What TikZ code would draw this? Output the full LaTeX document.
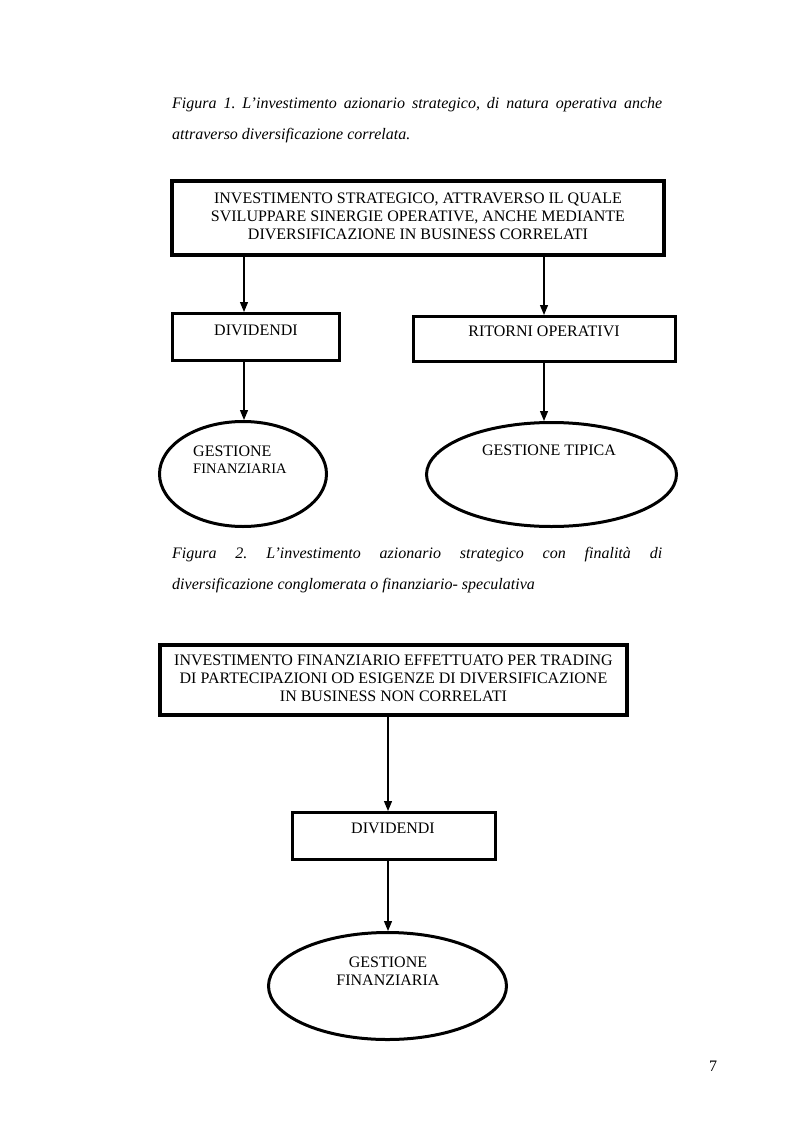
\documentclass[tikz,border=0pt]{standalone}
\usepackage{fontspec}
\setmainfont{Liberation Serif}
\usetikzlibrary{shapes.geometric,arrows.meta}
\frenchspacing
\begin{document}
\begin{tikzpicture}[x=1pt,y=-1pt,
  txt/.style={inner sep=0pt,anchor=base,font=\fontsize{16}{18}\selectfont},
  multi/.style={inner sep=0pt,anchor=center,align=center,font=\fontsize{16}{18}\selectfont},
  captxt/.style={inner sep=0pt,anchor=base west,font=\fontsize{16}{18}\selectfont\itshape\frenchspacing},
  arr/.style={line width=1.2pt,-{Triangle[length=10pt,width=8pt]}},
  bbox/.style={draw,line width=4pt,inner sep=0pt},
  sbox/.style={draw,line width=3pt,inner sep=0pt},
  oval/.style={draw,ellipse,line width=3pt,inner sep=0pt},
]
\useasboundingbox[fill=white] (0,0) rectangle (793,1123);

% Figure 1 caption
\node[captxt] (c1a) at (172,109) {\makebox[490pt][s]{Figura 1. L’investimento azionario strategico, di natura operativa anche}};
\node[captxt] (c1b) at (172,140) {attraverso diversificazione correlata.};

% Figure 1 boxes
\node[bbox,minimum width=492pt,minimum height=74pt] (b1) at (418,218) {};
\node[multi] (t1) at (418,216) {INVESTIMENTO STRATEGICO, ATTRAVERSO IL QUALE\\SVILUPPARE SINERGIE OPERATIVE, ANCHE MEDIANTE\\DIVERSIFICAZIONE IN BUSINESS CORRELATI};

\node[sbox,minimum width=167pt,minimum height=47pt] (d1) at (256,337) {};
\node[txt] (td1) at (256,335) {DIVIDENDI};

\node[sbox,minimum width=262pt,minimum height=45pt] (r1) at (544.5,339) {};
\node[txt] (tr1) at (544,336) {RITORNI OPERATIVI};

\node[oval,minimum width=167pt,minimum height=105pt] (e1) at (243,474) {};
\node[inner sep=0pt,anchor=base west,font=\fontsize{16}{18}\selectfont] (te1a) at (193,456) {GESTIONE};
\node[inner sep=0pt,anchor=base west,font=\fontsize{14.5}{16}\selectfont] (te1b) at (193,473) {FINANZIARIA};

\node[oval,minimum width=250pt,minimum height=104pt] (e2) at (551.5,474.5) {};
\node[txt] (te2) at (549,455) {GESTIONE TIPICA};

\coordinate (xa) at (244,0);
\coordinate (xb) at (544,0);
\draw[arr] (b1.south -| xa) -- (d1.north -| xa);
\draw[arr] (b1.south -| xb) -- (r1.north -| xb);
\draw[arr] (d1.south -| xa) -- (e1.north -| xa);
\draw[arr] (r1.south -| xb) -- (e2.north -| xb);

% Figure 2 caption
\node[captxt] (c2a) at (172,558) {\makebox[490pt][s]{Figura 2. L’investimento azionario strategico con finalità di}};
\node[captxt] (c2b) at (172,589) {diversificazione conglomerata o finanziario- speculativa};

% Figure 2 boxes
\node[bbox,minimum width=467pt,minimum height=70pt] (b2) at (393.5,680) {};
\node[multi] (t2) at (393.5,678) {INVESTIMENTO FINANZIARIO EFFETTUATO PER TRADING\\DI PARTECIPAZIONI OD ESIGENZE DI DIVERSIFICAZIONE\\IN BUSINESS NON CORRELATI};

\node[sbox,minimum width=203pt,minimum height=47pt] (d2) at (394,836) {};
\node[txt] (td2) at (393,833) {DIVIDENDI};

\node[oval,minimum width=238pt,minimum height=107pt] (e3) at (387.5,986) {};
\node[txt] (te3a) at (388,967) {GESTIONE};
\node[txt] (te3b) at (388,985) {FINANZIARIA};

\coordinate (xc) at (388,0);
\draw[arr] (b2.south -| xc) -- (d2.north -| xc);
\draw[arr] (d2.south -| xc) -- (e3.north -| xc);

% page number
\node[txt] (pg) at (713,1071) {7};
\end{tikzpicture}
\end{document}
